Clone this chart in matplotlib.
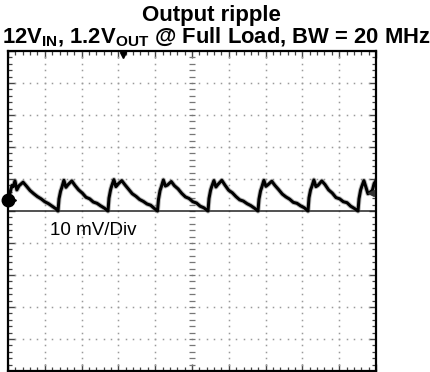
import numpy as np
import matplotlib
matplotlib.use("Agg")
import matplotlib.pyplot as plt

plt.rcParams['font.family'] = ['Liberation Sans', 'DejaVu Sans']
plt.rcParams['mathtext.fontset'] = 'custom'
plt.rcParams['mathtext.rm'] = 'Liberation Sans'
plt.rcParams['mathtext.bf'] = 'Liberation Sans:bold'

# ---- trace: time in divisions (-5..5), ripple in mV (10 mV/div) ----
t_start = [-5.000, -4.970, -4.920, -4.890, -4.860, -4.810, -4.760, -4.700, -4.590,
           -4.500, -4.400, -4.300, -4.200, -4.100, -4.000, -3.900, -3.800, -3.700]
v_start = [3.4, 4.5, 6.8, 8.0, 7.6, 9.4, 6.6, 7.9, 9.0,
           7.8, 6.4, 5.4, 4.5, 3.8, 2.9, 2.3, 1.5, 0.7]

t_c1 = [-3.641, -3.614, -3.571, -3.541, -3.481, -3.426, -3.371, -3.266, -3.181,
        -3.081, -2.981, -2.881, -2.781, -2.681, -2.581, -2.481, -2.381]
v_c1 = [0.0, 3.8, 6.2, 7.2, 9.6, 7.4, 8.2, 9.4, 8.0, 6.6, 5.6, 4.3, 3.8, 2.8, 2.4, 1.6, 0.9]

t_c2 = [-2.283, -2.256, -2.213, -2.183, -2.123, -2.068, -2.013, -1.908, -1.823,
        -1.723, -1.623, -1.523, -1.423, -1.323, -1.223, -1.123, -1.023]
v_c2 = [0.0, 4.0, 6.6, 7.8, 9.8, 7.6, 8.4, 9.5, 8.2, 6.8, 5.4, 4.6, 3.6, 3.0, 2.2, 1.8, 0.8]

t_c3 = [-0.938, -0.911, -0.868, -0.838, -0.778, -0.723, -0.668, -0.563, -0.478,
        -0.378, -0.278, -0.178, -0.078, 0.022, 0.122, 0.222, 0.322]
v_c3 = [0.0, 3.6, 6.4, 7.4, 9.7, 7.8, 8.1, 9.2, 7.9, 6.9, 5.5, 4.4, 3.9, 2.9, 2.5, 1.5, 1.0]

t_c4 = [0.435, 0.462, 0.505, 0.535, 0.595, 0.650, 0.705, 0.810, 0.895,
        0.995, 1.095, 1.195, 1.295, 1.395, 1.495, 1.595, 1.695]
v_c4 = [0.0, 3.9, 6.5, 7.6, 9.5, 7.5, 8.3, 9.6, 8.1, 6.5, 5.7, 4.5, 3.5, 3.1, 2.3, 1.7, 0.9]

t_c5 = [1.793, 1.820, 1.863, 1.893, 1.953, 2.008, 2.063, 2.168, 2.253,
        2.353, 2.453, 2.553, 2.653, 2.753, 2.853, 2.953, 3.053]
v_c5 = [0.0, 3.7, 6.3, 7.3, 9.6, 7.7, 8.2, 9.3, 8.0, 6.7, 5.3, 4.4, 3.7, 2.7, 2.4, 1.6, 1.0]

t_c6 = [3.152, 3.179, 3.222, 3.252, 3.312, 3.367, 3.422, 3.527, 3.612,
        3.712, 3.812, 3.912, 4.012, 4.112, 4.212, 4.312, 4.412]
v_c6 = [0.0, 4.1, 6.6, 7.5, 9.7, 7.6, 8.0, 9.4, 8.3, 6.6, 5.6, 4.2, 3.8, 2.9, 2.6, 1.5, 0.8]

t_c7 = [4.511, 4.538, 4.581, 4.611, 4.671, 4.726, 4.781, 4.850, 4.900, 4.950, 5.000]
v_c7 = [0.0, 3.8, 6.5, 7.6, 9.5, 7.5, 5.4, 6.0, 6.4, 8.6, 9.5]

trace_t = t_start + t_c1 + t_c2 + t_c3 + t_c4 + t_c5 + t_c6 + t_c7
trace_v = v_start + v_c1 + v_c2 + v_c3 + v_c4 + v_c5 + v_c6 + v_c7

ch_marker_mv = 3.4      # channel marker on the left edge
trig_pos_div = -1.88    # trigger position marker on top
trig_level_mv = 5.5     # trigger level marker on the right
scale_label = "10 mV/Div"

fig = plt.figure(figsize=(4.30, 3.72), dpi=100)
ax = fig.add_axes([8 / 430, 1 / 372, 368 / 430, 320 / 372])
ax.set_xlim(-5, 5)
ax.set_ylim(-50, 50)

# graticule dots
gx = np.arange(-5, 5.001, 0.2)
gy = np.arange(-50, 50.001, 2)
for x in range(-4, 5):
    if x == 0:
        continue
    ax.plot(np.full_like(gy, x), gy, ls='none', marker='s', ms=1.1,
            mec='none', mfc='#9a9a9a')
for y in range(-40, 50, 10):
    if y == 0:
        continue
    ax.plot(gx, np.full_like(gx, y), ls='none', marker='s', ms=1.1,
            mec='none', mfc='#9a9a9a')

# centre axes
ax.plot(np.zeros_like(gy), gy, ls='none', marker='_', ms=4, mew=0.9, color='#777777')
ax.axhline(0, color='#222222', lw=1.1)

# ripple trace (noisy band)
ax.plot(trace_t, trace_v, color='#555555', lw=3.6, alpha=0.4, solid_joinstyle='round')
ax.plot(trace_t, trace_v, color='black', lw=2.2, solid_joinstyle='round')

# markers
ax.plot([-5], [ch_marker_mv], marker='o', ms=9, color='black', clip_on=False, zorder=5)
ax.plot([-4.86], [ch_marker_mv], marker='>', ms=5, color='black', clip_on=False, zorder=5)
ax.plot([trig_pos_div], [48.6], marker='v', ms=5, color='black', clip_on=False, zorder=5)
ax.plot([4.86], [trig_level_mv], marker='<', ms=4.5, color='#333333', clip_on=False, zorder=5)

ax.text(-3.87, -6.2, scale_label, fontsize=13.5, va='center', ha='left')

# frame ticks
ax.set_xticks(np.arange(-5, 5.001, 1))
ax.set_yticks(np.arange(-50, 50.001, 10))
ax.set_xticks(gx, minor=True)
ax.set_yticks(gy, minor=True)
ax.tick_params(which='both', direction='in', top=True, right=True,
               labelbottom=False, labelleft=False, color='#444444')
ax.tick_params(which='major', length=5, width=1)
ax.tick_params(which='minor', length=3, width=0.9)
for s in ax.spines.values():
    s.set_linewidth(1.6)
    s.set_color('black')

fig.text(0.492, 1 - 21 / 372, "Output ripple", ha='center', va='baseline',
         fontsize=16, fontweight='bold')
fig.text(0.502, 1 - 43 / 372,
         r"12V$_\mathbf{IN}$, 1.2V$_\mathbf{OUT}$ @ Full Load, BW = 20 MHz",
         ha='center', va='baseline', fontsize=15.8, fontweight='bold')

fig.savefig("out.png", dpi=100, facecolor='white')
